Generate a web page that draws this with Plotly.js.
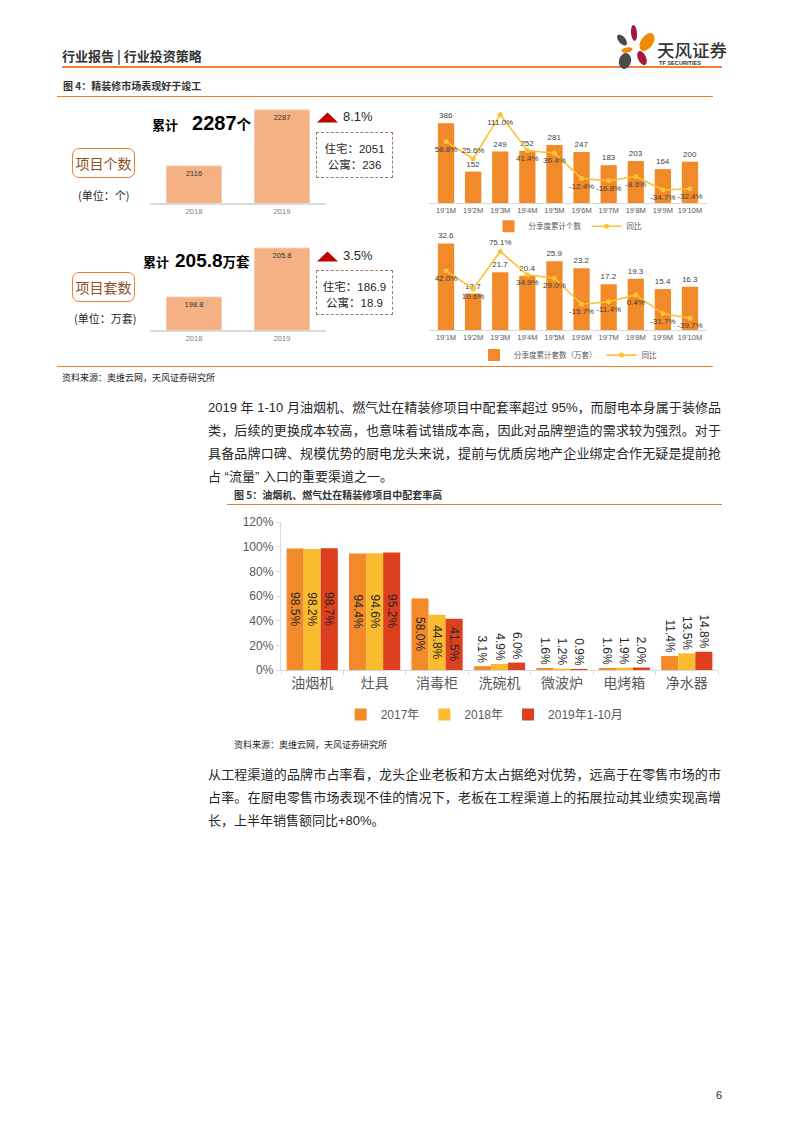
<!DOCTYPE html>
<html>
<head>
<meta charset="utf-8">
<script src="https://cdn.plot.ly/plotly-3.0.1.min.js"></script>
<style>
  html, body { margin:0; padding:0; background:#fff; }
  body { width:793px; height:1122px; position:relative; overflow:hidden;
         font-family:"Liberation Sans","Noto Sans CJK SC",sans-serif; color:#262626; }
  .abs { position:absolute; white-space:nowrap; }
  .hline { position:absolute; height:0; border-top:1.6px solid #ED7D31; }
  .chart { position:absolute; }
  .para { position:absolute; left:208px; width:513px; font-size:13px; line-height:23px; color:#262626; }
  .para div { height:23px; overflow:visible; }
  .j { text-align:justify; text-align-last:justify; }
</style>
</head>
<body>
<script>
// ---------------- DATA ----------------
const years = ['2018', '2019'];
const projCount = [2116, 2287];
const projSets = [198.8, 205.8];
const months = ["19'1M","19'2M","19'3M","19'4M","19'5M","19'6M","19'7M","19'8M","19'9M","19'10M"];
const monthCount = [386, 152, 249, 252, 281, 247, 183, 203, 164, 200];
const monthCountYoY = [58.8, 25.6, 111.0, 41.4, 36.4, -12.4, -16.8, -8.6, -34.7, -32.4];
const monthSets = [32.6, 13.7, 21.7, 20.4, 25.9, 23.2, 17.2, 19.3, 15.4, 16.3];
const monthSetsYoY = [42.0, 10.6, 75.1, 34.9, 29.0, -15.7, -11.4, 0.4, -31.7, -39.7];
const appliances = ['油烟机','灶具','消毒柜','洗碗机','微波炉','电烤箱','净水器'];
const rate2017 = [98.5, 94.4, 58.0, 3.1, 1.6, 1.6, 11.4];
const rate2018 = [98.2, 94.6, 44.8, 4.9, 1.2, 1.9, 13.5];
const rate2019 = [98.7, 95.2, 41.5, 6.0, 0.9, 2.0, 14.8];
const seriesNames = ['2017年','2018年','2019年1-10月'];
</script>

<!-- Header -->
<div class="abs" style="left:62px;top:46px;font-size:13px;font-weight:bold;color:#333;line-height:20px;font-family:'Noto Sans CJK SC',sans-serif;">行业报告&nbsp;|&nbsp;行业投资策略</div>
<div class="hline" style="left:62px;top:66px;width:660px;border-top-width:2.2px;"></div>
<svg class="abs" style="left:605px;top:20px;" width="125" height="55" viewBox="605 20 125 55">
  <ellipse cx="634" cy="33" rx="3" ry="8" fill="#A6163C" transform="rotate(-5 634 33)"/>
  <ellipse cx="622" cy="40" rx="3.5" ry="6.5" fill="#4A4A4A" transform="rotate(-40 622 40)"/>
  <ellipse cx="647" cy="42" rx="6" ry="10" fill="#F08A00" transform="rotate(35 647 42)"/>
  <ellipse cx="627" cy="50" rx="5.5" ry="2.6" fill="#F08A00" transform="rotate(-10 627 50)"/>
  <ellipse cx="642" cy="58" rx="4" ry="7.5" fill="#A6163C" transform="rotate(-25 642 58)"/>
  <ellipse cx="625" cy="61" rx="6" ry="8" fill="#4A4A4A" transform="rotate(15 625 61)"/>
  <text x="657" y="57" font-size="17.5" font-weight="500" fill="#333" font-family="Noto Sans CJK SC">天风证券</text>
  <text x="659" y="65" font-size="5.6" fill="#333" font-family="Liberation Sans" font-weight="bold">TF SECURITIES</text>
</svg>

<!-- Figure 4 caption -->
<div class="abs" style="left:63px;top:77px;font-size:10px;font-weight:bold;color:#333;line-height:18px;font-family:'Noto Sans CJK SC',sans-serif;">图 4：精装修市场表现好于竣工</div>
<div class="hline" style="left:57px;top:96px;width:656px;"></div>

<!-- Left panel text, row 1 -->
<div class="abs" style="left:72px;top:148px;width:61px;height:28px;border:1.5px solid #ED7D31;border-radius:7px;text-align:center;line-height:28px;font-size:14px;color:#8F4E1E;font-family:'Noto Sans CJK SC',sans-serif;">项目个数</div>
<div class="abs" style="left:78px;top:185px;font-size:11px;line-height:20px;color:#262626;font-family:'Noto Sans CJK SC',sans-serif;">(单位：个)</div>
<div class="abs" style="left:152px;top:108px;line-height:30px;font-weight:bold;color:#000;"><span style="font-size:13px;font-family:'Noto Sans CJK SC',sans-serif;">累计</span><span style="font-size:20px;margin-left:14px;">2287</span><span style="font-size:14.5px;font-family:'Noto Sans CJK SC',sans-serif;">个</span></div>
<svg class="abs" style="left:317px;top:112px;" width="22" height="11"><polygon points="0,10.5 10.5,0.5 21,10.5" fill="#C00000"/></svg>
<div class="abs" style="left:343px;top:107px;font-size:13px;line-height:20px;color:#262626;">8.1%</div>
<div class="abs" style="left:316px;top:132px;width:75px;height:43px;border:1.6px dashed #A47858;text-align:center;font-size:11.5px;line-height:14.5px;padding-top:1px;color:#262626;">
  <div style="margin-top:7px;"><span style="font-family:'Noto Sans CJK SC',sans-serif;">住宅：</span>2051</div>
  <div><span style="font-family:'Noto Sans CJK SC',sans-serif;">公寓：</span>236</div>
</div>

<!-- Left panel text, row 2 -->
<div class="abs" style="left:72px;top:272px;width:61px;height:28px;border:1.5px solid #ED7D31;border-radius:7px;text-align:center;line-height:28px;font-size:14px;color:#8F4E1E;font-family:'Noto Sans CJK SC',sans-serif;">项目套数</div>
<div class="abs" style="left:74px;top:308px;font-size:11px;line-height:20px;color:#262626;font-family:'Noto Sans CJK SC',sans-serif;">(单位：万套)</div>
<div class="abs" style="left:143px;top:246px;line-height:30px;font-weight:bold;color:#000;"><span style="font-size:13px;font-family:'Noto Sans CJK SC',sans-serif;">累计</span><span style="font-size:19px;margin-left:6px;">205.8</span><span style="font-size:13.5px;font-family:'Noto Sans CJK SC',sans-serif;">万套</span></div>
<svg class="abs" style="left:317px;top:251px;" width="22" height="11"><polygon points="0,10.5 10.5,0.5 21,10.5" fill="#C00000"/></svg>
<div class="abs" style="left:343px;top:246px;font-size:13px;line-height:20px;color:#262626;">3.5%</div>
<div class="abs" style="left:316px;top:270px;width:75px;height:43px;border:1.6px dashed #A47858;text-align:center;font-size:11.5px;line-height:14.5px;color:#262626;">
  <div style="margin-top:8px;"><span style="font-family:'Noto Sans CJK SC',sans-serif;">住宅：</span>186.9</div>
  <div><span style="font-family:'Noto Sans CJK SC',sans-serif;">公寓：</span>18.9</div>
</div>

<div id="cA" class="chart" style="left:145px;top:100px;width:190px;height:125px;"></div>
<div id="cB" class="chart" style="left:145px;top:238px;width:190px;height:110px;"></div>
<div id="cC" class="chart" style="left:425px;top:100px;width:290px;height:150px;"></div>
<div id="cD" class="chart" style="left:425px;top:227px;width:290px;height:150px;"></div>

<div class="hline" style="left:57px;top:366px;width:656px;"></div>
<div class="abs" style="left:62px;top:370px;font-size:9px;line-height:16px;color:#262626;font-family:'Noto Sans CJK SC',sans-serif;">资料来源：奥维云网，天风证券研究所</div>

<!-- Paragraph 1 -->
<div class="para" style="top:396px;">
  <div class="j">2019 年 1-10 月油烟机、燃气灶在精装修项目中配套率超过 95%，而厨电本身属于装修品</div>
  <div class="j">类，后续的更换成本较高，也意味着试错成本高，因此对品牌塑造的需求较为强烈。对于</div>
  <div class="j">具备品牌口碑、规模优势的厨电龙头来说，提前与优质房地产企业绑定合作无疑是提前抢</div>
  <div>占 “流量” 入口的重要渠道之一。</div>
</div>

<!-- Figure 5 caption -->
<div class="abs" style="left:234px;top:486px;font-size:10px;font-weight:bold;color:#333;line-height:18px;font-family:'Noto Sans CJK SC',sans-serif;">图 5：油烟机、燃气灶在精装修项目中配套率高</div>
<div class="hline" style="left:227px;top:504px;width:495px;"></div>

<div id="cE" class="chart" style="left:226px;top:510px;width:500px;height:235px;"></div>

<div class="abs" style="left:234px;top:737px;font-size:9px;line-height:16px;color:#262626;font-family:'Noto Sans CJK SC',sans-serif;">资料来源：奥维云网，天风证券研究所</div>

<!-- Paragraph 2 -->
<div class="para" style="top:763px;">
  <div class="j">从工程渠道的品牌市占率看，龙头企业老板和方太占据绝对优势，远高于在零售市场的市</div>
  <div class="j">占率。在厨电零售市场表现不佳的情况下，老板在工程渠道上的拓展拉动其业绩实现高增</div>
  <div>长，上半年销售额同比+80%。</div>
</div>

<div class="abs" style="left:716px;top:1086px;font-size:11px;line-height:18px;color:#262626;">6</div>

<script>
const FONT = '"Liberation Sans","Noto Sans CJK SC",sans-serif';
const cfg = {staticPlot:true, displayModeBar:false};
const ORANGE = '#F28A2A';
const GOLD = '#FBC234';
const SALMON = '#F4B183';

function smallBar(id, vals, range, h, t, b) {
  Plotly.newPlot(id, [{
    type:'bar', x:years, y:vals,
    marker:{color:SALMON, line:{color:'#F8CBAD', width:1}},
    text: vals.map(String), textposition:'inside', insidetextanchor:'end',
    textfont:{size:7.5, color:'#333'}, constraintext:'none', hoverinfo:'none'
  }], {
    width:190, height:h, margin:{l:5, r:9, t:t, b:b},
    paper_bgcolor:'rgba(0,0,0,0)', plot_bgcolor:'rgba(0,0,0,0)',
    font:{family:FONT}, showlegend:false, bargap:0.375,
    xaxis:{type:'category', showline:true, linecolor:'#D9D9D9', linewidth:1.5, ticks:'',
           tickfont:{size:7.5, color:'#7F7F7F'}, fixedrange:true, automargin:false},
    yaxis:{range:range, visible:false, fixedrange:true}
  }, cfg);
}
smallBar('cA', projCount, [2003, 2293], 125, 8, 22);
smallBar('cB', projSets, [194.1, 206.1], 110, 8, 18);

function comboChart(id, barVals, lineVals, barName, y1, y2, legY, linePos) {
  Plotly.newPlot(id, [{
    type:'bar', x:months, y:barVals, name:barName,
    marker:{color:ORANGE},
    text: barVals.map(String), textposition:'outside', cliponaxis:false,
    textfont:{size:8, color:'#404040'}, hoverinfo:'none'
  }, {
    type:'scatter', mode:'lines+markers+text', x:months, y:lineVals, yaxis:'y2', name:'同比',
    line:{color:GOLD, width:1.6}, marker:{color:GOLD, size:5},
    text: lineVals.map(v => v.toFixed(1) + '%'), textposition: linePos, cliponaxis:false,
    textfont:{size:8, color:'#404040'}, hoverinfo:'none'
  }], {
    width:290, height:150, margin:{l:4, r:8, t:10, b:47},
    paper_bgcolor:'rgba(0,0,0,0)', plot_bgcolor:'rgba(0,0,0,0)',
    font:{family:FONT}, bargap:0.4,
    xaxis:{type:'category', showline:true, linecolor:'#D9D9D9', ticks:'', tickfont:{size:7.5, color:'#595959'}, fixedrange:true, automargin:false},
    yaxis:{range:y1, visible:false, fixedrange:true},
    yaxis2:{range:y2, overlaying:'y', side:'right', visible:false, fixedrange:true},
    showlegend:true,
    legend:{orientation:'h', x:0.5, xanchor:'center', y:legY, yanchor:'middle',
            font:{size:7.5, color:'#595959'}, itemwidth:30, tracegroupgap:0}
  }, cfg);
}
const posA = monthCountYoY.map((v,i) => i === 1 ? 'top center' : 'bottom center');
const posB = monthSetsYoY.map((v,i) => i === 2 ? 'top center' : 'bottom center');
comboChart('cC', monthCount, monthCountYoY, '分季度累计个数', [0, 450], [-60, 120], -0.25, posA);
comboChart('cD', monthSets, monthSetsYoY, '分季度累计套数（万套）', [0, 35], [-60, 100], -0.27, posB);

const colors = ['#F28A2A', '#FBBB2E', '#DE3F1E'];
const rates = [rate2017, rate2018, rate2019];
Plotly.newPlot('cE', rates.map((r, k) => ({
  type:'bar', x:appliances, y:r, name:seriesNames[k],
  marker:{color:colors[k]},
  text: r.map(v => v.toFixed(1) + '%'),
  textposition: r.map(v => v > 30 ? 'inside' : 'outside'),
  insidetextanchor:'middle', textangle:90, constraintext:'none', cliponaxis:false,
  textfont:{size:12, color:'#262626'}, hoverinfo:'none'
})), {
  width:500, height:235, margin:{l:55, r:7.5, t:12, b:75},
  paper_bgcolor:'rgba(0,0,0,0)', plot_bgcolor:'rgba(0,0,0,0)',
  font:{family:FONT}, barmode:'group', bargap:0.18, bargroupgap:0,
  xaxis:{type:'category', showline:true, linecolor:'#D9D9D9', linewidth:1.2,
         ticks:'outside', tickson:'boundaries', ticklen:4, tickcolor:'#D9D9D9',
         tickfont:{size:14, color:'#595959', family:'"Noto Sans CJK SC",sans-serif'}, fixedrange:true, automargin:false},
  yaxis:{range:[0, 120], dtick:20, ticksuffix:'%', showgrid:false, zeroline:false,
         showline:true, linecolor:'#D9D9D9', linewidth:1.2, ticks:'outside', ticklen:4, tickcolor:'#D9D9D9',
         tickfont:{size:12, color:'#595959'}, fixedrange:true, automargin:false},
  legend:{orientation:'h', x:0.466, xanchor:'center', y:-0.30, yanchor:'middle',
          font:{size:12, color:'#595959'}, itemwidth:30}
}, cfg);
</script>
</body>
</html>
